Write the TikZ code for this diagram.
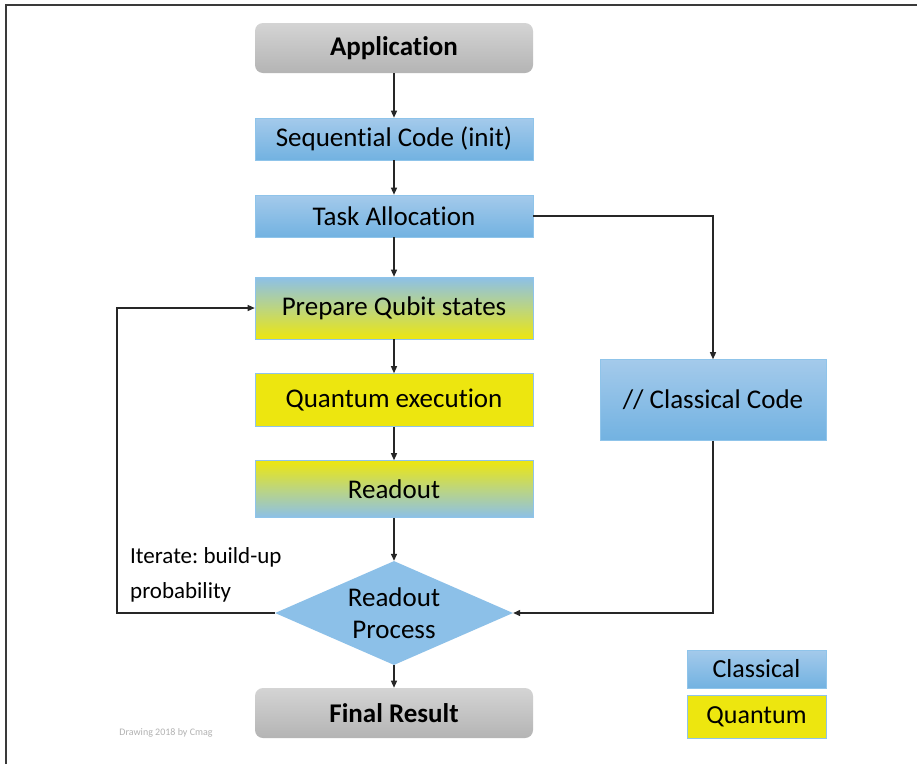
\documentclass[tikz,border=0pt]{standalone}
\usepackage{fontspec}
\setmainfont[Ligatures={NoCommon}]{Carlito}
\frenchspacing
\usetikzlibrary{shapes.geometric,arrows.meta}
\definecolor{bluetop}{HTML}{A4CAEB}
\definecolor{bluebot}{HTML}{72B2E1}
\definecolor{bluemid}{HTML}{8CC0E8}
\definecolor{blueedge}{HTML}{8FC4EA}
\definecolor{qyellow}{HTML}{EDE60F}
\definecolor{qgreen}{HTML}{BCD580}
\definecolor{graytop}{HTML}{D4D4D4}
\definecolor{graybot}{HTML}{B4B4B4}
\definecolor{framec}{HTML}{3A3A3A}
\tikzset{
  box/.style={rectangle, minimum width=278pt, inner sep=0pt, font=\fontsize{27}{30}\selectfont, text=black, draw=blueedge, line width=0.6pt},
  classic/.style={box, top color=bluetop, bottom color=bluebot},
  quantum/.style={box, fill=qyellow},
  bq/.style={box, top color=bluemid, bottom color=qyellow, middle color=qgreen},
  qb/.style={box, top color=qyellow, bottom color=bluemid, middle color=qgreen},
  grayterm/.style={box, draw=none, rounded corners=8pt, top color=graytop, bottom color=graybot, font=\fontsize{27}{30}\selectfont\bfseries},
  conn/.style={line width=1.3pt, draw=black!85, -{Triangle[width=6pt,length=7pt]}},
  legend/.style={rectangle, minimum width=139pt, inner sep=0pt, font=\fontsize{26}{28}\selectfont, draw=blueedge, line width=0.6pt}
}
\begin{document}
\begin{tikzpicture}[x=1pt,y=-1pt]
\useasboundingbox (0,0) rectangle (917,764);
\fill[white] (0,0) rectangle (917,764);
% frame
\draw[framec, line width=2pt] (6,764) -- (6,5) -- (917,5);

\node[grayterm, minimum height=50pt] (app) at (394,48) {Application};
\node[classic, minimum height=42pt] (seq) at (394,139) {Sequential Code (init)};
\node[classic, minimum height=42pt] (task) at (394,216) {Task Allocation};
\node[bq, minimum height=62pt] (prep) at (394,308) {Prepare Qubit states};
\node[quantum, minimum height=53pt] (qexec) at (394,400) {Quantum execution};
\node[qb, minimum height=57pt] (read) at (394,489) {Readout};
\node[diamond, aspect=2.29, minimum width=238pt, minimum height=104pt, inner sep=0pt, fill=bluemid, font=\fontsize{27}{32}\selectfont, align=center] (rp) at (394,613) {Readout\\Process};
\node[grayterm, minimum height=50pt] (final) at (394,713) {Final Result};

\node[classic, minimum width=226pt, minimum height=81pt] (cc) at (713,400) {// Classical Code};

\node[legend, top color=bluetop, bottom color=bluebot, minimum height=38pt] (lc) at (756.5,669) {Classical};
\node[legend, fill=qyellow, minimum height=43pt] (lq) at (756.5,716.5) {Quantum};

\node[anchor=north west, align=left, font=\fontsize{23}{35}\selectfont, inner sep=0pt] (iter) at (130,547) {Iterate: build-up\\probability};

\node[font=\fontsize{10}{11}\selectfont, text=black!30] (credit) at (166,733) {Drawing 2018 by Cmag};

% connectors
\draw[conn] (app) -- (seq);
\draw[conn] (seq) -- (task);
\draw[conn] (task) -- (prep);
\draw[conn] (prep) -- (qexec);
\draw[conn] (qexec) -- (read);
\draw[conn] (read) -- (rp);
\draw[conn] (rp) -- (final);
\draw[conn] (task.east) -| (cc.north);
\draw[conn] (cc.south) |- (rp.east);
\coordinate (loopc) at (117,613);
\draw[conn] (rp.west) -- (loopc) |- (prep.west);
\end{tikzpicture}
\end{document}
